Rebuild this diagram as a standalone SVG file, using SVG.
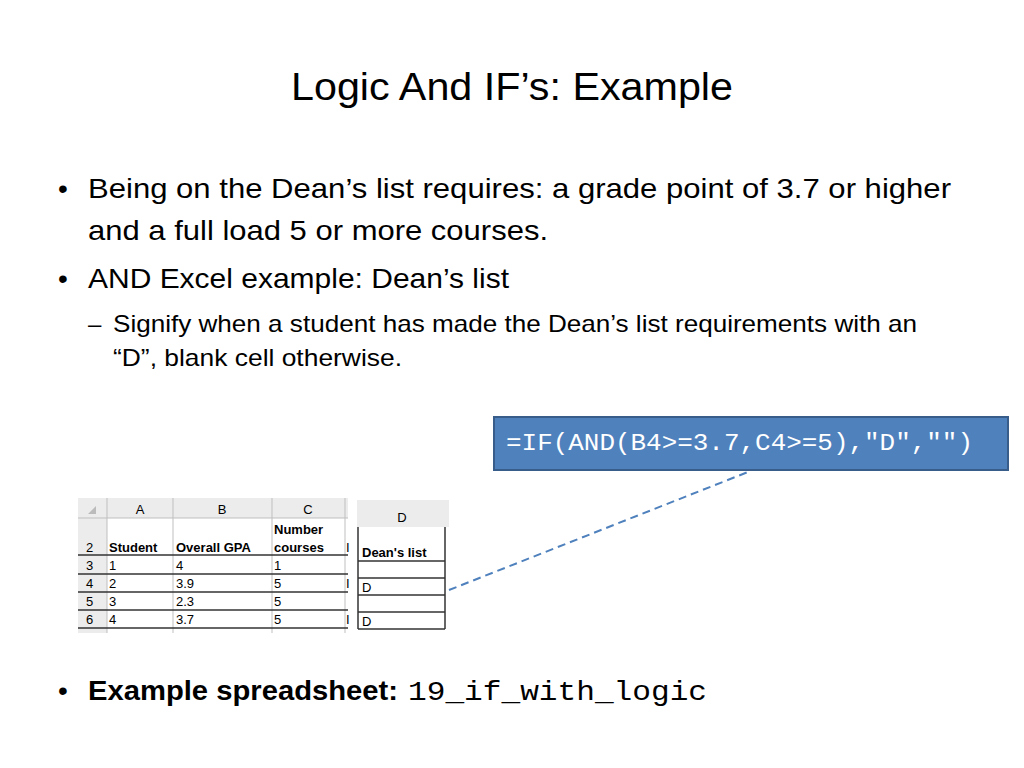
<svg xmlns="http://www.w3.org/2000/svg" width="1024" height="768" viewBox="0 0 1024 768">
<style>
.t{font-family:"Liberation Sans",Arial,sans-serif;fill:#000}
.b{font-size:28px}
.s{font-size:24px}
.x{font-family:"Liberation Sans",Arial,sans-serif;font-size:13px;fill:#000}
.h{font-weight:bold}
.g{stroke:#bfbfbf;stroke-width:1}
.k{stroke:#333;stroke-width:1.5}
</style>
<rect width="1024" height="768" fill="#fff"/>
<g id="title"><text class="t" x="512" y="100" font-size="38" text-anchor="middle" textLength="442" lengthAdjust="spacingAndGlyphs">Logic And IF’s: Example</text></g>
<g id="bullets">
<text class="t b" x="58" y="198">•</text>
<text class="t b" x="88" y="198" textLength="863" lengthAdjust="spacingAndGlyphs">Being on the Dean’s list requires: a grade point of 3.7 or higher</text>
<text class="t b" x="88" y="240" textLength="460" lengthAdjust="spacingAndGlyphs">and a full load 5 or more courses.</text>
<text class="t b" x="58" y="288">•</text>
<text class="t b" x="88" y="288" textLength="421" lengthAdjust="spacingAndGlyphs">AND Excel example: Dean’s list</text>
<text class="t s" x="88" y="332">–</text>
<text class="t s" x="113" y="332" textLength="804" lengthAdjust="spacingAndGlyphs">Signify when a student has made the Dean’s list requirements with an</text>
<text class="t s" x="113" y="366" textLength="289" lengthAdjust="spacingAndGlyphs">“D”, blank cell otherwise.</text>
<text class="t b" x="58" y="700">•</text>
<text class="t b h" x="88" y="700" textLength="310" lengthAdjust="spacingAndGlyphs">Example spreadsheet:</text>
<text x="408" y="700" font-family="'Liberation Mono','DejaVu Sans Mono',monospace" font-size="28" textLength="299" lengthAdjust="spacingAndGlyphs">19_if_with_logic</text>
</g>
<g id="connectors"><line x1="449" y1="590" x2="748" y2="472" stroke="#4f81bd" stroke-width="2" stroke-dasharray="8,5"/></g>
<g id="formula">
<rect x="494" y="417" width="514" height="53" fill="#4f81bd" stroke="#385d8a" stroke-width="2"/>
<text x="506" y="450" font-family="'Liberation Mono','DejaVu Sans Mono',monospace" font-size="24" fill="#fff" textLength="467" lengthAdjust="spacingAndGlyphs">=IF(AND(B4&gt;=3.7,C4&gt;=5),"D","")</text>
</g>
<g id="sheet-left">
<rect x="78" y="498" width="270" height="20" fill="#ececec"/>
<rect x="78" y="518" width="29" height="115" fill="#ececec"/>
<line class="g" x1="107" y1="498" x2="107" y2="633"/>
<line class="g" x1="173" y1="498" x2="173" y2="518"/>
<line class="g" x1="272" y1="498" x2="272" y2="518"/>
<line class="g" x1="345" y1="498" x2="345" y2="518"/>
<line class="g" x1="78" y1="518" x2="348" y2="518"/>
<line class="g" x1="173" y1="518" x2="173" y2="633"/>
<line class="g" x1="272" y1="518" x2="272" y2="633"/>
<line class="g" x1="345" y1="518" x2="345" y2="633"/>
<g class="k"><line x1="78" y1="555" x2="348" y2="555"/><line x1="78" y1="574" x2="348" y2="574"/><line x1="78" y1="592" x2="348" y2="592"/><line x1="78" y1="610" x2="348" y2="610"/><line x1="78" y1="628" x2="348" y2="628"/></g>
<path d="M88 514 L96 506 L96 514 Z" fill="#bbb"/>
<text class="x" x="140" y="514" text-anchor="middle">A</text>
<text class="x" x="222" y="514" text-anchor="middle">B</text>
<text class="x" x="308" y="514" text-anchor="middle">C</text>
<text class="x" x="86" y="552">2</text><text class="x" x="86" y="570">3</text><text class="x" x="86" y="588">4</text><text class="x" x="86" y="606">5</text><text class="x" x="86" y="624">6</text>
<text class="x h" x="109" y="552">Student</text><text class="x h" x="176" y="552">Overall GPA</text>
<text class="x h" x="274" y="534">Number</text><text class="x h" x="274" y="552">courses</text>
<text class="x" x="109" y="570">1</text><text class="x" x="176" y="570">4</text><text class="x" x="274" y="570">1</text>
<text class="x" x="109" y="588">2</text><text class="x" x="176" y="588">3.9</text><text class="x" x="274" y="588">5</text>
<text class="x" x="109" y="606">3</text><text class="x" x="176" y="606">2.3</text><text class="x" x="274" y="606">5</text>
<text class="x" x="109" y="624">4</text><text class="x" x="176" y="624">3.7</text><text class="x" x="274" y="624">5</text>
<text class="x" x="346" y="552">I</text><text class="x" x="346" y="588">I</text><text class="x" x="346" y="624">I</text>
</g>
<g id="sheet-right">
<rect x="357" y="500" width="92" height="27" fill="#ececec"/>
<text class="x" x="402" y="522" text-anchor="middle">D</text>
<g class="k"><line x1="358" y1="527" x2="358" y2="629"/><line x1="445" y1="527" x2="445" y2="629"/>
<line x1="358" y1="561" x2="445" y2="561"/><line x1="358" y1="578" x2="445" y2="578"/><line x1="358" y1="595" x2="445" y2="595"/><line x1="358" y1="612" x2="445" y2="612"/><line x1="358" y1="629" x2="445" y2="629"/></g>
<text class="x h" x="362" y="557" font-size="12">Dean's list</text>
<text class="x" x="362" y="592" font-size="12">D</text>
<text class="x" x="362" y="626" font-size="12">D</text>
</g>
</svg>
